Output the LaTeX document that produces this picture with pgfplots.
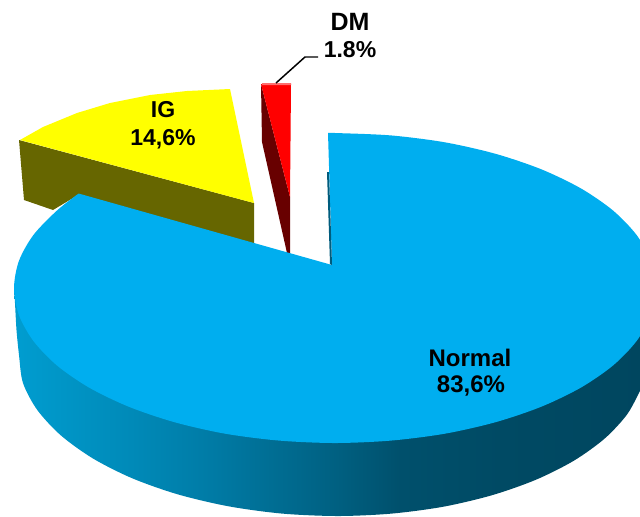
\documentclass[border=0pt]{standalone}
\usepackage{fontspec}
\setmainfont{Liberation Sans}
\usepackage{pgfplots}
\pgfplotsset{compat=1.18}
\definecolor{cyantop}{RGB}{0,174,239}
\definecolor{olive}{RGB}{102,102,0}
\definecolor{darkred}{RGB}{104,0,0}
\definecolor{yel}{RGB}{255,255,0}
\definecolor{wallblue}{RGB}{0,92,125}
\definecolor{pinkedge}{RGB}{255,110,110}
\pgfdeclarehorizontalshading{sideblue}{100bp}{
 rgb(0bp)=(0,0.616,0.816);
 rgb(25bp)=(0,0.616,0.816);
 rgb(34.3bp)=(0,0.541,0.722);
 rgb(39.9bp)=(0,0.49,0.659);
 rgb(51bp)=(0,0.373,0.502);
 rgb(55.8bp)=(0,0.314,0.424);
 rgb(63.8bp)=(0,0.29,0.392);
 rgb(75bp)=(0,0.275,0.373);
 rgb(100bp)=(0,0.275,0.373)}
\begin{document}
\begin{tikzpicture}
\begin{axis}[
  width=640bp,height=516bp,scale only axis,
  xmin=0,xmax=640,ymin=0,ymax=516,y dir=reverse,
  axis lines=none,clip=true,
  every axis plot/.append style={no markers,line width=0pt}]
\path (rel axis cs:0,0) rectangle (rel axis cs:1,1);
% Normal: side
\addplot[draw=none,shade,shading=sideblue,smooth] coordinates {
 (14,288)(15,303)(16.5,330)(19,355)(23,383)(37.3,410)(61,435.5)(93,458.5)(132.3,478.3)(178,494.4)(228.6,506.3)(282.4,513.6)(338,516)(391.5,513.6)(443.3,506.7)(492,495.2)(536,479.7)(574,460.6)(604.7,438.5)(627.4,414)(641.3,388)} -- (axis cs:641.3,300) -- cycle;
% IG: side
\addplot[draw=none,fill=olive] coordinates {
 (19,140)(254,203)(254,244)(78,195)(53,210)(24,200)(19,140)};
% IG: top
\addplot[draw=none,fill=yel] coordinates {
 (20,140)(43,127)(77,113)(110,103)(150,95)(187,91)(230,89)(254,203)(20,140)};
% DM: side and top
\addplot[draw=none,fill=darkred] coordinates {
 (261,84)(290,197)(290,254)(287,253)(262,142)(261,84)};
\addplot[draw=none,fill=red] coordinates {
 (261,84)(291,84)(290,197)(261,84)};
\addplot[draw=none,fill=pinkedge] coordinates {
 (262,83)(291,83)(291,85)(262,85)(262,83)};
% Normal: top
\addplot[draw=none,fill=cyantop,smooth] coordinates {
 (328,133)(335,133)(390.7,135.4)(444.8,142.3)(495.5,153.8)(541.3,169.3)(580.9,188.4)(613,210.5)(636.6,235)(651,261)(656,288)(651,315)(636.6,341)(613,365.5)(580.9,387.6)(541.3,406.7)(495.5,422.2)(444.8,433.7)(390.7,440.6)(335,443)(279.3,440.6)(225.2,433.7)(174.5,422.2)(128.7,406.7)(89.1,387.6)(57,365.5)(33.4,341)(18.9,315)(14,288)(18.9,261)(33.4,235)(57,210.5)(78.6,193.5)} -- (axis cs:332,265) -- cycle;
% Normal: inner wall
\addplot[draw=none,fill=wallblue] coordinates {
 (327,172)(329,172)(332,265)(330,264)(327,172)};
% leader
\addplot[black,line width=1.5pt] coordinates {(276,83)(305,57)(318,57)};
\node[anchor=base,font=\bfseries\fontsize{24bp}{24bp}\selectfont] at (axis cs:470,366) {Normal};
\node[anchor=base,font=\bfseries\fontsize{24bp}{24bp}\selectfont] at (axis cs:471,392) {83,6\%};
\node[anchor=base,font=\bfseries\fontsize{23bp}{23bp}\selectfont] at (axis cs:163,117) {IG};
\node[anchor=base,font=\bfseries\fontsize{23bp}{23bp}\selectfont] at (axis cs:163,145) {14,6\%};
\node[anchor=base,font=\bfseries\fontsize{25bp}{25bp}\selectfont] at (axis cs:350,31) {DM};
\node[anchor=base,font=\bfseries\fontsize{23bp}{23bp}\selectfont] at (axis cs:350,58) {1.8\%};
\end{axis}
\end{tikzpicture}
\end{document}
